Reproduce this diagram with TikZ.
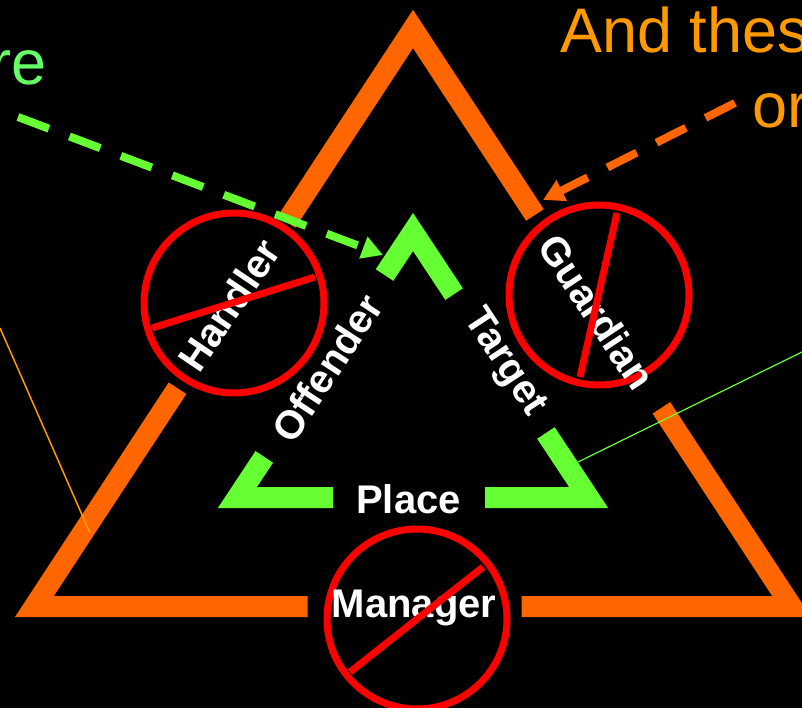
\documentclass[tikz,border=0pt]{standalone}
\usepackage{fontspec}
\setmainfont{Liberation Sans}
\usetikzlibrary{arrows.meta,calc}

\definecolor{rimorange}{HTML}{FF6600}
\definecolor{coregreen}{HTML}{66FF33}
\definecolor{noteorange}{HTML}{FF9900}
\definecolor{notegreen}{HTML}{66FF66}

\begin{document}
\begin{tikzpicture}[x=1pt,y=-1pt,
  rim/.style={rimorange,line width=21pt,line join=miter},
  core/.style={coregreen,line width=21pt,line join=miter},
  ring/.style={red,line width=7pt},
  lbl/.style={white,inner sep=0pt,font=\bfseries\fontsize{40}{48}\selectfont},
  note/.style={inner sep=0pt,font=\fontsize{63}{72}\selectfont},
  pointer/.style={line width=8pt,dash pattern=on 33pt off 22pt,
    -{Triangle[length=21pt,width=22pt]}}]
\fill[black] (0,0) rectangle (802,708);
\useasboundingbox (0,0) rectangle (802,708);
\clip (0,0) rectangle (802,708);
% outer triangle
\coordinate (oTop) at (413,29);
\coordinate (oLeft) at (34.4,606.5);
\coordinate (oRight) at (791.6,606.5);
\draw[rim] ($(oTop)!0.334!(oLeft)$) -- (oTop) -- ($(oTop)!0.322!(oRight)$);
\draw[rim] ($(oTop)!0.622!(oLeft)$) -- (oLeft) -- (307.7,606.5);
\draw[rim] (521.7,606.5) -- (oRight) -- ($(oTop)!0.656!(oRight)$);
% inner triangle
\coordinate (gTop) at (413,232);
\coordinate (gLeft) at (237.4,497.5);
\coordinate (gRight) at (588.6,497.5);
\draw[core] ($(gTop)!0.162!(gLeft)$) -- (gTop) -- ($(gTop)!0.234!(gRight)$);
\draw[core] ($(gTop)!0.847!(gLeft)$) -- (gLeft) -- (333,497.5);
\draw[core] (485,497.5) -- (gRight) -- ($(gTop)!0.757!(gRight)$);
\node[lbl,anchor=base] (place) at (408.5,513) {Place};
\node[lbl,rotate=56.7] (offender) at (327,368) {Offender};
\node[lbl,rotate=-56.7] (target) at (504,363) {Target};
% crossed out roles
\coordinate (hC) at (234,303);
\coordinate (gC) at (599,295);
\coordinate (mC) at (417,619);
\draw[ring] (hC) circle (90);
\draw[ring] (gC) circle (90);
\draw[ring] (mC) circle (90);
\node[lbl,rotate=56] (handler) at (229,305) {Handler};
\node[lbl,rotate=-56.5] (guardian) at (597,312) {Guardian};
\node[lbl,anchor=base] (manager) at (414,617) {Manager};
\draw[ring] (152,328) -- (315,277);
\draw[ring] (617,213) -- (580,377);
\draw[ring] (350,672) -- (483,567);
% notes
\node[note,notegreen,anchor=base east] (areText) at (47,85) {re};
\node[note,noteorange,anchor=base west] (theseText) at (560,53) {And thes};
\node[note,noteorange,anchor=base west] (orText) at (752,128) {or};
\coordinate (lineL0) at (0,328);
\coordinate (lineL1) at (90,533);
\coordinate (lineR0) at (802,352);
\coordinate (lineR1) at (578,462);
\draw[noteorange,line width=1.5pt] (lineL0) -- (lineL1);
\draw[coregreen,line width=1.2pt] (lineR0) -- (lineR1);
\coordinate (gArrow0) at (18,117);
\coordinate (gArrow1) at (383,255);
\coordinate (oArrow0) at (735,103);
\coordinate (oArrow1) at (543,200);
\draw[pointer,coregreen] (gArrow0) -- (gArrow1);
\draw[pointer,rimorange] (oArrow0) -- (oArrow1);
\end{tikzpicture}
\end{document}
